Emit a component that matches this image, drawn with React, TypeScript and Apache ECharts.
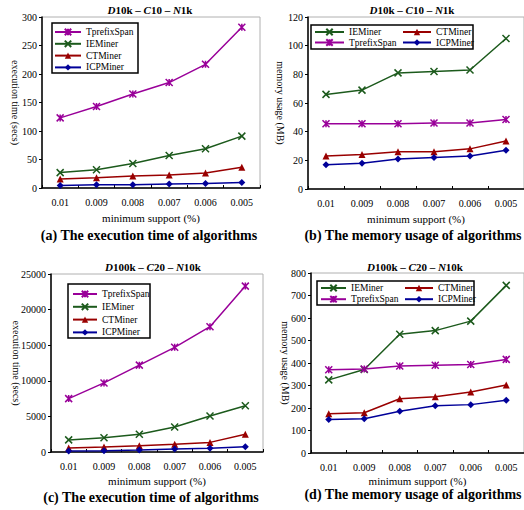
import React, { useEffect, useRef } from "react";
import * as echarts from "echarts";

const categories = ["0.01", "0.009", "0.008", "0.007", "0.006", "0.005"];

// (a) execution time, D10k-C10-N1k
const timeSmallTprefix = [123, 143, 165, 185, 217, 282];
const timeSmallIE = [27, 32, 43, 57, 69, 91];
const timeSmallCT = [16, 18, 21, 23, 26.5, 36.5];
const timeSmallICP = [4.5, 5.5, 5.8, 7, 8, 9.5];

// (b) memory usage, D10k-C10-N1k
const memSmallIE = [66, 69, 81, 82, 83, 105];
const memSmallTprefix = [45.5, 45.5, 45.5, 46, 46, 48.5];
const memSmallCT = [23, 24, 26, 26, 28, 33.5];
const memSmallICP = [17, 18, 21, 22, 23, 27];

// (c) execution time, D100k-C20-N10k
const timeLargeTprefix = [7500, 9700, 12200, 14700, 17600, 23300];
const timeLargeIE = [1700, 2000, 2500, 3500, 5050, 6500];
const timeLargeCT = [560, 700, 880, 1080, 1350, 2500];
const timeLargeICP = [140, 190, 280, 420, 520, 750];

// (d) memory usage, D100k-C20-N10k
const memLargeIE = [325, 371, 528, 544, 586, 745];
const memLargeTprefix = [370, 373, 387, 390, 393, 416];
const memLargeCT = [174, 179, 241, 250, 271, 302];
const memLargeICP = [149, 152, 186, 210, 215, 234];

const FONT = "Liberation Serif, Times New Roman, serif";

const COLORS: Record<string, string> = {
  TprefixSpan: "#990099",
  IEMiner: "#1c5a1c",
  CTMiner: "#990000",
  ICPMiner: "#000099",
};

const SYMBOLS: Record<string, any> = {
  TprefixSpan: { symbol: "path://M0,0L10,10M10,0L0,10M5,0L5,10", size: 7, stroke: true },
  IEMiner: { symbol: "path://M0,0L10,10M10,0L0,10", size: 7, stroke: true },
  CTMiner: { symbol: "triangle", size: 7, stroke: false },
  ICPMiner: { symbol: "diamond", size: 7, stroke: false },
};

function mkSeries(name: string, data: number[], idx: number) {
  const c = COLORS[name];
  const s = SYMBOLS[name];
  return {
    type: "line",
    name,
    data,
    xAxisIndex: idx,
    yAxisIndex: idx,
    symbol: s.symbol,
    symbolSize: s.size,
    showAllSymbol: true,
    color: c,
    lineStyle: { color: c, width: 1.5 },
    itemStyle: s.stroke
      ? { color: c, borderColor: c, borderWidth: 1.5 }
      : { color: c, borderWidth: 0 },
  };
}

const grids = [
  { left: 42, top: 17, width: 218, height: 171 },
  { left: 308, top: 17, width: 220, height: 172 },
  { left: 51, top: 274, width: 212, height: 178 },
  { left: 311, top: 273, width: 215, height: 180 },
];

const yMax = [300, 120, 25000, 800];
const yInt = [50, 20, 5000, 100];
const yNames = ["execution time (secs)", "memory usage (MB)", "execution time (secs)", "memory usage (MB)"];
const yNameGaps = [22, 23, 30, 21];
const xNameGaps = [24, 24, 23.5, 22];

function titleText(d: string, c: string, n: string) {
  return `{i|D}{n|${d} – }{i|C}{n|${c} – }{i|N}{n|${n}}`;
}

const titleRich = {
  i: { fontFamily: FONT, fontSize: 11, fontWeight: "bold", fontStyle: "italic", fill: "#000" },
  n: { fontFamily: FONT, fontSize: 11, fontWeight: "bold", fill: "#000" },
};

export default function App() {
  const ref = useRef<HTMLDivElement>(null);
  useEffect(() => {
    if (!ref.current) return;
    const chart = echarts.init(ref.current, null, { renderer: "svg" });

    const legendText = { fontFamily: FONT, fontSize: 9.5, color: "#000" };

    const option: any = {
      animation: false,
      backgroundColor: "#fff",
      textStyle: { fontFamily: FONT },
      grid: grids.map((g) => ({ ...g, show: true, borderColor: "#b0b0b0", borderWidth: 1, containLabel: false })),
      xAxis: grids.map((_, i) => ({
        type: "category",
        gridIndex: i,
        data: categories,
        boundaryGap: true,
        name: "minimum support (%)",
        nameLocation: "middle",
        nameGap: xNameGaps[i],
        nameMoveOverlap: false,
        nameTextStyle: { fontFamily: FONT, fontSize: 11, color: "#000" },
        axisLine: { show: true, lineStyle: { color: "#000", width: 1.5 } },
        axisTick: { show: true, inside: true, length: 3, lineStyle: { color: "#000" } },
        axisLabel: { fontFamily: FONT, fontSize: 10, color: "#000", margin: 9 },
        splitLine: { show: false },
      })),
      yAxis: grids.map((_, i) => ({
        type: "value",
        gridIndex: i,
        min: 0,
        max: yMax[i],
        interval: yInt[i],
        name: yNames[i],
        nameLocation: "middle",
        nameRotate: -90,
        nameGap: yNameGaps[i],
        nameMoveOverlap: false,
        nameTextStyle: { fontFamily: FONT, fontSize: 10, color: "#000" },
        axisLine: { show: true, lineStyle: { color: "#000", width: 1.5 } },
        axisTick: { show: true, inside: false, length: 3, lineStyle: { color: "#000" } },
        axisLabel: { fontFamily: FONT, fontSize: 10, color: "#000", margin: 5, formatter: (v: number) => String(v) },
        splitLine: { show: false },
      })),
      legend: [
        {
          left: 54, top: 27, orient: "vertical", padding: 0, itemGap: 1.8,
          itemWidth: 26, itemHeight: 8,
          data: ["TprefixSpan", "IEMiner", "CTMiner", "ICPMiner"],
          textStyle: legendText,
        },
        {
          left: 314, top: 27, orient: "vertical", padding: 0, itemGap: 0.5,
          itemWidth: 29, itemHeight: 8,
          data: ["IEMiner", "TprefixSpan"],
          textStyle: legendText,
        },
        {
          left: 402, top: 27, orient: "vertical", padding: 0, itemGap: 0.5,
          itemWidth: 28, itemHeight: 8,
          data: ["CTMiner", "ICPMiner"],
          textStyle: legendText,
        },
        {
          left: 72, top: 289, orient: "vertical", padding: 0, itemGap: 2.8,
          itemWidth: 24, itemHeight: 8,
          data: ["TprefixSpan", "IEMiner", "CTMiner", "ICPMiner"],
          textStyle: legendText,
        },
        {
          left: 320, top: 283, orient: "vertical", padding: 0, itemGap: 1.2,
          itemWidth: 25, itemHeight: 8,
          data: ["IEMiner", "TprefixSpan"],
          textStyle: legendText,
        },
        {
          left: 404, top: 283, orient: "vertical", padding: 0, itemGap: 1.2,
          itemWidth: 28, itemHeight: 8,
          data: ["CTMiner", "ICPMiner"],
          textStyle: legendText,
        },
      ],
      series: [
        mkSeries("TprefixSpan", timeSmallTprefix, 0),
        mkSeries("IEMiner", timeSmallIE, 0),
        mkSeries("CTMiner", timeSmallCT, 0),
        mkSeries("ICPMiner", timeSmallICP, 0),
        mkSeries("IEMiner", memSmallIE, 1),
        mkSeries("TprefixSpan", memSmallTprefix, 1),
        mkSeries("CTMiner", memSmallCT, 1),
        mkSeries("ICPMiner", memSmallICP, 1),
        mkSeries("TprefixSpan", timeLargeTprefix, 2),
        mkSeries("IEMiner", timeLargeIE, 2),
        mkSeries("CTMiner", timeLargeCT, 2),
        mkSeries("ICPMiner", timeLargeICP, 2),
        mkSeries("IEMiner", memLargeIE, 3),
        mkSeries("TprefixSpan", memLargeTprefix, 3),
        mkSeries("CTMiner", memLargeCT, 3),
        mkSeries("ICPMiner", memLargeICP, 3),
      ],
      graphic: [
        { type: "rect", shape: { x: 52, y: 23, width: 86, height: 50 }, style: { fill: "transparent", stroke: "#000", lineWidth: 1.5 }, z: 10 },
        { type: "rect", shape: { x: 311, y: 25, width: 162, height: 24 }, style: { fill: "transparent", stroke: "#000", lineWidth: 1.5 }, z: 10 },
        { type: "rect", shape: { x: 68, y: 284, width: 82, height: 54 }, style: { fill: "transparent", stroke: "#000", lineWidth: 1.5 }, z: 10 },
        { type: "rect", shape: { x: 317, y: 281, width: 157, height: 24 }, style: { fill: "transparent", stroke: "#000", lineWidth: 1.5 }, z: 10 },
        { type: "text", x: 150, y: 10, style: { text: titleText("10k", "10", "1k"), rich: titleRich, align: "center", verticalAlign: "middle" } },
        { type: "text", x: 412, y: 10, style: { text: titleText("10k", "10", "1k"), rich: titleRich, align: "center", verticalAlign: "middle" } },
        { type: "text", x: 153, y: 267, style: { text: titleText("100k", "20", "10k"), rich: titleRich, align: "center", verticalAlign: "middle" } },
        { type: "text", x: 415, y: 267, style: { text: titleText("100k", "20", "10k"), rich: titleRich, align: "center", verticalAlign: "middle" } },
        { type: "text", x: 149, y: 235, style: { text: "(a) The execution time of algorithms", font: `bold 14px ${FONT}`, fill: "#000", align: "center", verticalAlign: "middle" } },
        { type: "text", x: 413, y: 235, style: { text: "(b) The memory usage of algorithms", font: `bold 14px ${FONT}`, fill: "#000", align: "center", verticalAlign: "middle" } },
        { type: "text", x: 151, y: 497, style: { text: "(c) The execution time of algorithms", font: `bold 14px ${FONT}`, fill: "#000", align: "center", verticalAlign: "middle" } },
        { type: "text", x: 413, y: 494, style: { text: "(d) The memory usage of algorithms", font: `bold 14px ${FONT}`, fill: "#000", align: "center", verticalAlign: "middle" } },
      ],
    };
    chart.setOption(option);
    return () => chart.dispose();
  }, []);
  return (
    <div
      ref={ref}
      style={{ position: "fixed", left: 0, top: 0, width: 524, height: 510, background: "#fff" }}
    />
  );
}
